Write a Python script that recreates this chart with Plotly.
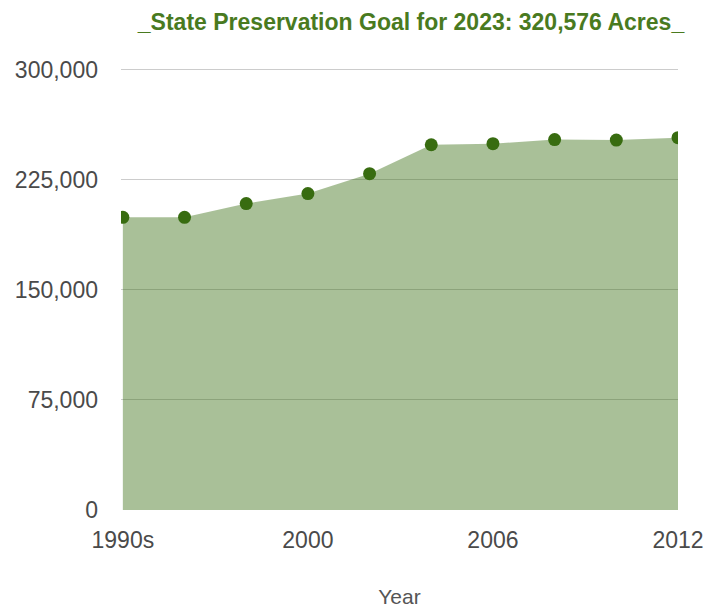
import plotly.graph_objects as go

# Preserved farmland acreage by year
years = ["1990s", "1996", "1998", "2000", "2002", "2004", "2006", "2008", "2010", "2012"]
acres = [199500, 199500, 208900, 215700, 229300, 249000, 249700, 252500, 252200, 253800]
shown_ticks = ["1990s", "2000", "2006", "2012"]
y_ticks = [0, 75000, 150000, 225000, 300000]

GREEN = "rgb(56,108,16)"
TEXT_GRAY = "#4a4a4a"

fig = go.Figure()
fig.add_trace(go.Scatter(
    x=years,
    y=acres,
    mode="markers",
    fill="tozeroy",
    fillcolor="rgba(56,108,16,0.43)",
    line=dict(width=0, color=GREEN),
    marker=dict(size=13, color=GREEN),
    hoverinfo="x+y",
    showlegend=False,
))

fig.update_layout(
    width=707,
    height=608,
    margin=dict(l=121, r=29, t=67, b=98),
    paper_bgcolor="white",
    plot_bgcolor="white",
    font=dict(family="Liberation Sans, Arial, sans-serif", size=23, color=TEXT_GRAY),
    title=dict(
        text="<b>_State Preservation Goal for 2023: 320,576 Acres_</b>",
        font=dict(family="Liberation Sans, Arial, sans-serif", size=23, color="#497a1f"),
        x=411 / 707, xref="container", xanchor="center",
        y=1 - 22 / 608, yref="container", yanchor="middle",
    ),
    xaxis=dict(
        type="category",
        categoryorder="array",
        categoryarray=years,
        range=[-0.03, 9.0],
        tickmode="array",
        tickvals=shown_ticks,
        ticktext=shown_ticks,
        showgrid=False,
        zeroline=False,
        showline=False,
        ticks="",
        automargin=False,
        ticklabelstandoff=14,
        tickfont=dict(size=23, color=TEXT_GRAY),
        title=dict(text="Year", standoff=40, font=dict(size=21, color="#555555")),
    ),
    yaxis=dict(
        range=[0, 302000],
        tickmode="array",
        tickvals=y_ticks,
        tickformat=",",
        showgrid=True,
        gridcolor="#cccccc",
        gridwidth=1,
        zeroline=False,
        showline=False,
        ticks="",
        automargin=False,
        ticklabelstandoff=22,
        tickfont=dict(size=23, color=TEXT_GRAY),
    ),
)

fig.write_html("out.html")
